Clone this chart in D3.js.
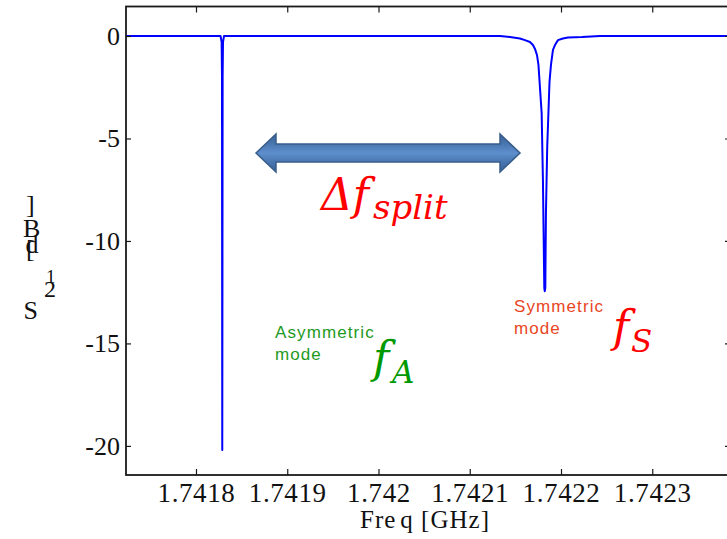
<!DOCTYPE html>
<html>
<head>
<meta charset="utf-8">
<script src="https://cdn.jsdelivr.net/npm/d3@7/dist/d3.min.js"></script>
<style>
  html, body { margin: 0; padding: 0; background: #fff; }
  svg { display: block; }
</style>
</head>
<body>
<svg id="chart" width="727" height="539"></svg>
<script>
// Transmission response S21 versus frequency (GHz), two resonance dips
const freqGHz = [
  1.7417233, 1.7418269, 1.7418281, 1.7418285, 1.7418288, 1.7418292, 1.7418296, 1.7418307,
  1.7421331, 1.7421441, 1.7421550, 1.7421605, 1.7421660, 1.7421693, 1.7421715, 1.7421737,
  1.7421753, 1.7421764, 1.7421788, 1.7421802, 1.7421817, 1.7421822, 1.7421828, 1.7421835,
  1.7421849, 1.7421874, 1.7421890, 1.7421912, 1.7421934, 1.7421967, 1.7422021, 1.7422076,
  1.7422230, 1.7422427, 1.7423852
];
const s21dB = [
  0, 0, -0.3, -2, -20.2, -2, -0.3, 0,
  0, -0.05, -0.12, -0.2, -0.29, -0.44, -0.63, -0.93,
  -1.41, -2.15, -3.76, -7.02, -12.3, -12.45, -12.3, -8.63,
  -5.41, -2.24, -1.41, -0.68, -0.44, -0.2, -0.12, -0.07,
  -0.05, 0, 0
];

const xTicks = [1.7418, 1.7419, 1.7420, 1.7421, 1.7422, 1.7423];
const xTickLabels = ["1.7418", "1.7419", "1.742", "1.7421", "1.7422", "1.7423"];
const yTicks = [0, -5, -10, -15, -20];
const yTickLabels = ["0", "-5", "-10", "-15", "-20"];

const xDomain = [1.7417233, 1.7423852];
const yDomain = [1.44, -21.42];

const svg = d3.select("#chart");
const plotL = 126, plotR = 730, plotT = 6.5, plotB = 475;

const x = d3.scaleLinear().domain(xDomain).range([plotL, plotR]);
const y = d3.scaleLinear().domain(yDomain).range([plotT, plotB]);

svg.append("rect").attr("width", 727).attr("height", 539).attr("fill", "#fff");

const defs = svg.append("defs");
defs.append("clipPath").attr("id", "plotClip")
  .append("rect").attr("x", plotL).attr("y", plotT)
  .attr("width", plotR - plotL).attr("height", plotB - plotT);

// Data line
const line = d3.line().x((d, i) => x(freqGHz[i])).y((d, i) => y(s21dB[i]));
svg.append("path")
  .datum(s21dB)
  .attr("clip-path", "url(#plotClip)")
  .attr("d", line)
  .attr("fill", "none")
  .attr("stroke", "#0000ff")
  .attr("stroke-width", 2)
  .attr("stroke-linejoin", "round");

// Axes with inward ticks on all four sides
const serif = "'Liberation Serif', 'Times New Roman', serif";
const axisColor = "#1a1a1a";

const xAxisB = d3.axisBottom(x).tickValues(xTicks)
  .tickFormat((d, i) => xTickLabels[i]).tickSizeInner(-6).tickSizeOuter(0).tickPadding(0);
const gxb = svg.append("g").attr("transform", `translate(0,${plotB})`).call(xAxisB);

const xAxisT = d3.axisTop(x).tickValues(xTicks).tickFormat("").tickSizeInner(-6).tickSizeOuter(0);
const gxt = svg.append("g").attr("transform", `translate(0,${plotT})`).call(xAxisT);

const yAxisL = d3.axisLeft(y).tickValues(yTicks)
  .tickFormat((d, i) => yTickLabels[i]).tickSizeInner(-5).tickSizeOuter(0).tickPadding(6);
const gyl = svg.append("g").attr("transform", `translate(${plotL},0)`).call(yAxisL);

const yAxisR = d3.axisRight(y).tickValues(yTicks).tickFormat("").tickSizeInner(-5).tickSizeOuter(0);
const gyr = svg.append("g").attr("transform", `translate(${plotR},0)`).call(yAxisR);

[gxb, gxt, gyl, gyr].forEach(g => {
  g.select(".domain").remove();
  g.selectAll(".tick line").attr("stroke", axisColor).attr("stroke-width", 1.2);
});

gxb.selectAll(".tick text")
  .attr("y", 27).attr("dy", 0)
  .attr("font-family", serif).attr("font-size", 27)
  .attr("letter-spacing", 0.6)
  .attr("fill", "#111");

gyl.selectAll(".tick text")
  .attr("dy", "0.32em")
  .attr("font-family", serif).attr("font-size", 26)
  .attr("fill", "#111");

// Plot frame
svg.append("rect")
  .attr("x", plotL).attr("y", plotT)
  .attr("width", plotR - plotL).attr("height", plotB - plotT)
  .attr("fill", "none").attr("stroke", axisColor).attr("stroke-width", 1.8);

// X axis title
const xt = svg.append("text")
  .attr("x", 425).attr("y", 528)
  .attr("text-anchor", "middle")
  .attr("font-family", serif).attr("font-size", 25)
  .attr("letter-spacing", 1)
  .attr("fill", "#111");
xt.append("tspan").text("Fre");
xt.append("tspan").attr("dx", 4).text("q [GHz]");

// Y axis title (glyphs stacked as rendered)
const yLabelGlyphs = [
  { t: "]", x: 26, y: 213, s: 26 },
  { t: "B", x: 23, y: 237, s: 26 },
  { t: "d", x: 25.5, y: 253, s: 26 },
  { t: "[", x: 26, y: 257, s: 26 },
  { t: "1", x: 46, y: 283, s: 19 },
  { t: "2", x: 44, y: 297, s: 24 },
  { t: "S", x: 23.5, y: 319, s: 26 }
];
svg.append("g").selectAll("text").data(yLabelGlyphs).join("text")
  .attr("x", d => d.x).attr("y", d => d.y)
  .attr("font-family", serif).attr("font-size", d => d.s)
  .attr("fill", "#111")
  .text(d => d.t);

// Double-headed block arrow marking the split
const grad = defs.append("linearGradient")
  .attr("id", "arrowFill").attr("x1", 0).attr("y1", 0).attr("x2", 0).attr("y2", 1);
[["0%", "#3a6194"], ["28%", "#4a78b2"], ["50%", "#5e8fcd"], ["72%", "#4a78b2"], ["100%", "#3a6194"]]
  .forEach(([o, c]) => grad.append("stop").attr("offset", o).attr("stop-color", c));

const ax0 = 256, ax1 = 520, ay = 153, shaftH = 9, headH = 19, headL = 20;
const arrowPts = [
  [ax0, ay], [ax0 + headL, ay - headH], [ax0 + headL, ay - shaftH],
  [ax1 - headL, ay - shaftH], [ax1 - headL, ay - headH], [ax1, ay],
  [ax1 - headL, ay + headH], [ax1 - headL, ay + shaftH],
  [ax0 + headL, ay + shaftH], [ax0 + headL, ay + headH]
];
svg.append("path")
  .attr("d", "M" + arrowPts.map(p => p.join(",")).join("L") + "Z")
  .attr("fill", "url(#arrowFill)")
  .attr("stroke", "#385d8a").attr("stroke-width", 1.5)
  .attr("stroke-linejoin", "miter");

// Annotations
const mathFont = "'DejaVu Serif', serif";

const dfs = svg.append("text")
  .attr("x", 321).attr("y", 210)
  .attr("font-family", mathFont).attr("font-style", "italic")
  .attr("fill", "#ff0000");
dfs.append("tspan").attr("font-size", 44).text("Δ");
dfs.append("tspan").attr("font-size", 44).text("f");
dfs.append("tspan").attr("x", 373).attr("y", 219).attr("font-size", 34).text("split");

const fsLabel = svg.append("text")
  .attr("x", 613).attr("y", 342)
  .attr("font-family", mathFont).attr("font-style", "italic")
  .attr("fill", "#ff0000");
fsLabel.append("tspan").attr("font-size", 44).text("f");
fsLabel.append("tspan").attr("x", 631).attr("y", 352).attr("font-size", 31).text("S");

const faLabel = svg.append("text")
  .attr("x", 373).attr("y", 373)
  .attr("font-family", mathFont).attr("font-style", "italic")
  .attr("fill", "#009900");
faLabel.append("tspan").attr("font-size", 44).text("f");
faLabel.append("tspan").attr("x", 392).attr("y", 383).attr("font-size", 31).text("A");

const sans = "'Liberation Sans', Arial, sans-serif";
const modeNotes = [
  { lines: ["Asymmetric", "mode"], x: 275, y: 338, color: "#1e9a1e" },
  { lines: ["Symmetric", "mode"], x: 514, y: 312, color: "#e8461e" }
];
modeNotes.forEach(n => {
  const t = svg.append("text")
    .attr("font-family", sans).attr("font-size", 17)
    .attr("letter-spacing", 1.1).attr("fill", n.color);
  n.lines.forEach((s, i) => t.append("tspan").attr("x", n.x).attr("y", n.y + i * 22).text(s));
});
</script>
</body>
</html>
